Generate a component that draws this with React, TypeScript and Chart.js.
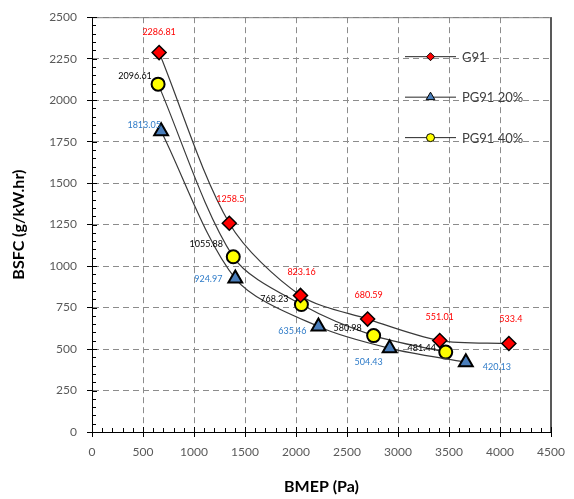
import React, { useEffect, useRef } from "react";
import { Chart, registerables } from "chart.js";

Chart.register(...registerables);

// ---- data ----
const bmepG91 = [658, 1346, 2044, 2702, 3409, 4087];
const bsfcG91 = [2286.81, 1258.5, 823.16, 680.59, 551.01, 533.4];
const bmepPG20 = [678, 1405, 2220, 2918, 3665];
const bsfcPG20 = [1813.05, 924.97, 635.46, 504.43, 420.13];
const bmepPG40 = [648, 1385, 2053, 2761, 3468];
const bsfcPG40 = [2096.61, 1055.88, 768.23, 580.98, 481.44];
const seriesNames = ["G91", "PG91 20%", "PG91 40%"];
const xTicks = [0, 500, 1000, 1500, 2000, 2500, 3000, 3500, 4000, 4500];
const yTicks = [0, 250, 500, 750, 1000, 1250, 1500, 1750, 2000, 2250, 2500];
const xTitle = "BMEP (Pa)";
const yTitle = "BSFC (g/kW.hr)";

// ---- styles (label offsets in px, relative to point) ----
const labelOffsets = [
  [[0, -20], [1, -24], [1, -23], [1, -24], [0, -23], [2, -24]],
  [[-17, -6], [-27, 1], [-26, 5], [-21, 14], [31, 5]],
  [[-23, -8], [-27, -13], [-27, -5], [-26, -8], [-24, -4]],
];
const labelColors = ["#ff0000", "#2e7bc8", "#000000"];
const FONT = "Lato, 'Open Sans', sans-serif";

const makePts = (xs: number[], ys: number[]) => xs.map((x, i) => ({ x, y: ys[i] }));

export default function App() {
  const ref = useRef<HTMLCanvasElement | null>(null);
  useEffect(() => {
    if (!ref.current) return;

    function drawMarker(ctx: CanvasRenderingContext2D, style: string, x: number, y: number, r: number) {
      ctx.beginPath();
      if (style === "circle") {
        ctx.arc(x, y, r, 0, Math.PI * 2);
      } else if (style === "rectRot") {
        ctx.moveTo(x, y - r);
        ctx.lineTo(x + r, y);
        ctx.lineTo(x, y + r);
        ctx.lineTo(x - r, y);
        ctx.closePath();
      } else {
        ctx.moveTo(x, y - r);
        ctx.lineTo(x + r * 0.87, y + r * 0.5);
        ctx.lineTo(x - r * 0.87, y + r * 0.5);
        ctx.closePath();
      }
      ctx.fill();
      ctx.stroke();
    }

    const overlay = {
      id: "overlay",
      afterDraw(chart: any) {
        const ctx = chart.ctx as CanvasRenderingContext2D;
        const { left, right, top, bottom } = chart.chartArea;
        const xs = chart.scales.x;
        const ys = chart.scales.y;
        ctx.save();
        // top and right frame
        ctx.strokeStyle = "#7f7f7f";
        ctx.lineWidth = 1;
        ctx.beginPath();
        ctx.moveTo(left, top + 0.5);
        ctx.lineTo(right, top + 0.5);
        ctx.stroke();
        ctx.strokeStyle = "#595959";
        ctx.lineWidth = 2;
        ctx.beginPath();
        ctx.moveTo(right, top);
        ctx.lineTo(right, bottom);
        ctx.stroke();
        // minor ticks + inward major ticks
        ctx.strokeStyle = "#000";
        ctx.lineWidth = 1;
        ctx.beginPath();
        for (let v = 0; v <= 4500; v += 100) {
          const px = Math.round(xs.getPixelForValue(v)) + 0.5;
          const len = v % 500 === 0 ? 5 : 4;
          ctx.moveTo(px, bottom);
          ctx.lineTo(px, bottom - len);
        }
        for (let v = 0; v <= 2500; v += 50) {
          const py = Math.round(ys.getPixelForValue(v)) + 0.5;
          const len = v % 250 === 0 ? 5 : 4;
          ctx.moveTo(left, py);
          ctx.lineTo(left + len, py);
        }
        ctx.stroke();
        // data labels
        ctx.font = `9px ${FONT}`;
        ctx.textAlign = "center";
        ctx.textBaseline = "middle";
        chart.data.datasets.forEach((ds: any, di: number) => {
          const meta = chart.getDatasetMeta(di);
          ctx.fillStyle = labelColors[di];
          meta.data.forEach((pt: any, i: number) => {
            const off = labelOffsets[di][i];
            ctx.fillText(String(ds.data[i].y), pt.x + off[0], pt.y + off[1]);
          });
        });
        // legend
        const rows = [
          { y: ys.getPixelForValue(2250) - 2, style: "rectRot", bg: "#ff0000", r: 4 },
          { y: ys.getPixelForValue(2000) - 3, style: "triangle", bg: "#4a7ebb", r: 5 },
          { y: ys.getPixelForValue(1750) - 4, style: "circle", bg: "#ffff00", r: 4 },
        ];
        const lx0 = left + 313;
        const lx1 = left + 364;
        const lmx = (lx0 + lx1) / 2;
        rows.forEach((row, i) => {
          ctx.strokeStyle = "#262626";
          ctx.lineWidth = 1;
          ctx.beginPath();
          ctx.moveTo(lx0, row.y);
          ctx.lineTo(lx1, row.y);
          ctx.stroke();
          ctx.fillStyle = row.bg;
          ctx.strokeStyle = "#000";
          ctx.lineWidth = 1;
          drawMarker(ctx, row.style, lmx, row.y, row.r);
          ctx.fillStyle = "#404040";
          ctx.font = `13px ${FONT}`;
          ctx.textAlign = "left";
          ctx.textBaseline = "middle";
          ctx.fillText(seriesNames[i], lx1 + 6, row.y + 1);
        });
        // axis titles
        ctx.fillStyle = "#000";
        ctx.font = `bold 16px ${FONT}`;
        ctx.textAlign = "center";
        ctx.textBaseline = "middle";
        ctx.fillText(xTitle, (left + right) / 2, 487);
        ctx.save();
        ctx.translate(19, (top + bottom) / 2);
        ctx.rotate(-Math.PI / 2);
        ctx.fillText(yTitle, 0, 0);
        ctx.restore();
        ctx.restore();
      },
    };

    const gridCommon = {
      color: "#8c8c8c",
      lineWidth: 1,
      tickColor: "#000",
      tickLength: 5,
    };
    const tickFmt = (v: any) => String(v);
    const chart = new Chart(ref.current, {
      type: "scatter",
      data: {
        datasets: [
          {
            label: seriesNames[0],
            data: makePts(bmepG91, bsfcG91),
            showLine: true,
            tension: 0.3,
            borderColor: "#3a3a3a",
            borderWidth: 1.2,
            pointStyle: "rectRot",
            pointRadius: 7,
            pointBackgroundColor: "#ff0000",
            pointBorderColor: "#000",
            pointBorderWidth: 1.5,
          },
          {
            label: seriesNames[1],
            data: makePts(bmepPG20, bsfcPG20),
            showLine: true,
            tension: 0.3,
            borderColor: "#3a3a3a",
            borderWidth: 1.2,
            pointStyle: "triangle",
            pointRadius: 8,
            pointBackgroundColor: "#4a7ebb",
            pointBorderColor: "#000",
            pointBorderWidth: 2,
          },
          {
            label: seriesNames[2],
            data: makePts(bmepPG40, bsfcPG40),
            showLine: true,
            tension: 0.3,
            borderColor: "#3a3a3a",
            borderWidth: 1.2,
            pointStyle: "circle",
            pointRadius: 6.5,
            pointBackgroundColor: "#ffff00",
            pointBorderColor: "#000",
            pointBorderWidth: 2,
          },
        ],
      },
      options: {
        responsive: false,
        animation: false,
        layout: { padding: { left: 0, top: 16, right: 23, bottom: 0 } },
        plugins: { legend: { display: false }, tooltip: { enabled: false } },
        scales: {
          x: {
            type: "linear",
            min: xTicks[0],
            max: xTicks[xTicks.length - 1],
            afterBuildTicks: (s: any) => {
              s.ticks = xTicks.map((v) => ({ value: v }));
            },
            afterFit: (s: any) => {
              s.height = 67;
            },
            ticks: { color: "#595959", font: { family: FONT, size: 12 }, padding: 8, maxRotation: 0, callback: tickFmt },
            grid: gridCommon,
            border: { display: true, color: "#000", width: 1, dash: [6, 4] },
          },
          y: {
            type: "linear",
            min: yTicks[0],
            max: yTicks[yTicks.length - 1],
            afterBuildTicks: (s: any) => {
              s.ticks = yTicks.map((v) => ({ value: v }));
            },
            afterFit: (s: any) => {
              s.width = 92;
            },
            ticks: { color: "#595959", font: { family: FONT, size: 12 }, padding: 10, callback: tickFmt },
            grid: gridCommon,
            border: { display: true, color: "#000", width: 1, dash: [6, 4] },
          },
        },
      },
      plugins: [overlay],
    } as any);
    return () => chart.destroy();
  }, []);
  return (
    <div style={{ position: "fixed", left: 0, top: 0, width: 574, height: 499, background: "#fff" }}>
      <canvas ref={ref} width={574} height={499} style={{ display: "block" }} />
    </div>
  );
}
